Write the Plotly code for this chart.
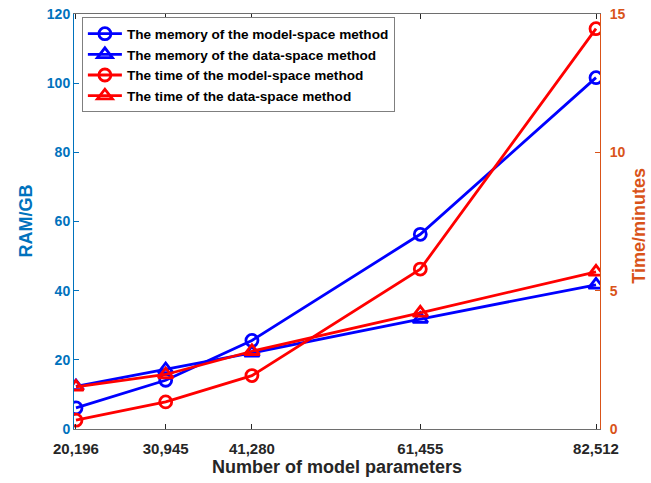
import plotly.graph_objects as go

params = [20196, 30945, 41280, 61455, 82512]
param_labels = ["20,196", "30,945", "41,280", "61,455", "82,512"]
mem_model = [6.1, 14.1, 25.6, 56.3, 101.6]
mem_data = [12.3, 17.2, 22.0, 31.8, 41.7]
time_model = [0.32, 0.98, 1.93, 5.78, 14.47]
time_data = [1.52, 1.97, 2.81, 4.2, 5.68]

names = [
    "The memory of the model-space method",
    "The memory of the data-space method",
    "The time of the model-space method",
    "The time of the data-space method",
]

BLUE = "#0000FF"
RED = "#FF0000"
LEFTC = "#0072BD"
RIGHTC = "#D95319"
DARK = "#262626"
FONT = "Liberation Sans, Arial, sans-serif"

fig = go.Figure()

def add(y, name, color, symbol, axis, size):
    fig.add_trace(go.Scatter(
        x=params, y=y, name=name, mode="lines+markers", yaxis=axis,
        line=dict(color=color, width=2.8),
        marker=dict(symbol=symbol, size=size, color=color,
                    line=dict(color=color, width=2.8)),
    ))

add(mem_model, names[0], BLUE, "circle-open", "y", 12)
add(mem_data, names[1], BLUE, "triangle-up-open", "y", 13)
add(time_model, names[2], RED, "circle-open", "y2", 12)
add(time_data, names[3], RED, "triangle-up-open", "y2", 13)

PLOT_L, PLOT_W = 74, 526

fig.update_layout(
    width=651, height=483,
    margin=dict(l=74, r=51, t=14, b=54),
    paper_bgcolor="white", plot_bgcolor="white",
    font=dict(family=FONT, size=14, color=DARK),
    showlegend=True,
    legend=dict(
        x=0.015, y=0.992, xanchor="left", yanchor="top",
        bgcolor="white", bordercolor="#7f7f7f", borderwidth=1,
        font=dict(family=FONT, size=13.6, color="black", weight="bold"),
        itemwidth=34, tracegroupgap=0,
    ),
    xaxis=dict(
        range=[19960, 82990], tickvals=params, ticktext=param_labels,
        ticks="inside", ticklen=5, tickcolor=DARK, automargin=False,
        showline=True, linecolor="#6e6e6e", linewidth=1, mirror="ticks",
        showgrid=False, zeroline=False, ticklabelstandoff=6,
        tickfont=dict(family=FONT, size=15, color=DARK, weight="bold"),
        title=dict(text="Number of model parameters", standoff=2,
                   font=dict(family=FONT, size=18, color=DARK, weight="bold")),
    ),
    yaxis=dict(
        range=[0, 120], tickvals=[0, 20, 40, 60, 80, 100, 120],
        ticks="inside", ticklen=5, tickcolor=LEFTC, automargin=False,
        showline=True, linecolor=LEFTC, linewidth=1,
        showgrid=False, zeroline=False,
        tickfont=dict(family=FONT, size=14, color=LEFTC, weight="bold"),
    ),
    yaxis2=dict(
        range=[0, 15], tickvals=[0, 5, 10, 15],
        overlaying="y", side="right", anchor="x", automargin=False,
        ticks="inside", ticklen=5, tickcolor=RIGHTC,
        showline=True, linecolor=RIGHTC, linewidth=1,
        showgrid=False, zeroline=False, ticklabelstandoff=6,
        tickfont=dict(family=FONT, size=14, color=RIGHTC, weight="bold"),
    ),
    annotations=[
        dict(text="RAM/GB", xref="paper", yref="paper",
             x=(25 - PLOT_L) / PLOT_W, y=0.5, xanchor="center", yanchor="middle",
             textangle=-90, showarrow=False,
             font=dict(family=FONT, size=18, color=LEFTC, weight="bold")),
        dict(text="Time/minutes", xref="paper", yref="paper",
             x=(639 - PLOT_L) / PLOT_W, y=0.49, xanchor="center", yanchor="middle",
             textangle=-90, showarrow=False,
             font=dict(family=FONT, size=18, color=RIGHTC, weight="bold")),
    ],
)

fig.write_html("out.html")
